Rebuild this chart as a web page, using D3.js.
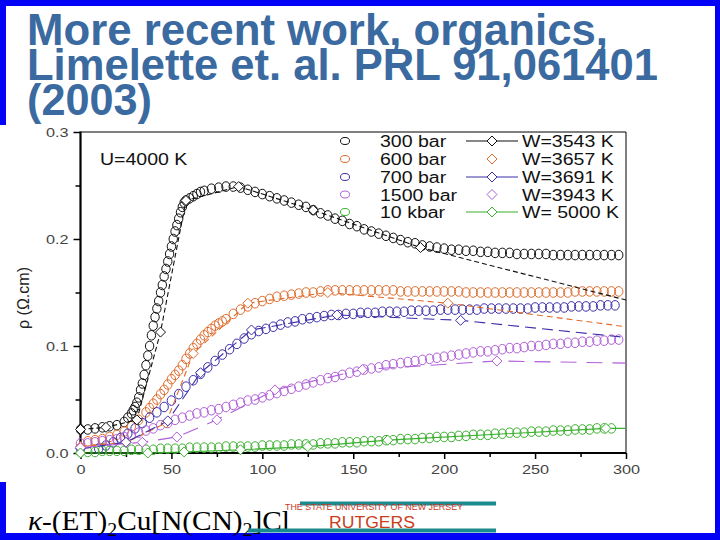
<!DOCTYPE html>
<html><head><meta charset="utf-8">
<script src="https://cdn.jsdelivr.net/npm/d3@7"></script>
<style>html,body{margin:0;padding:0;background:#fff;overflow:hidden}</style>
</head><body><svg id="c" width="720" height="540"></svg>
<script>
// ---------- text & categories ----------
const titleLines = ["More recent work, organics,", "Limelette et. al. PRL 91,061401", "(2003)"];
const xTicks = [0, 50, 100, 150, 200, 250, 300];
const xMinorTicks = [25, 75, 125, 175, 225, 275];
const yTicks = [0.0, 0.1, 0.2, 0.3];
const yMinorTicks = [0.05, 0.15, 0.25];
const seriesNames = ["300 bar", "600 bar", "700 bar", "1500 bar", "10 kbar"];
const modelNames = ["W=3543 K", "W=3657 K", "W=3691 K", "W=3943 K", "W= 5000 K"];
const modelInLegendLine = [true, false, true, false, true];
const seriesColors = ["#111111", "#e06c2c", "#3b2ea8", "#b05fd8", "#3cb030"];
const modelDash = ["5,3", "6,4", "11,6", "16,10", null];

// ---------- measured data (T in K, rho in Ohm.cm) ----------
const data300bar = [[0,.022],[4,.022],[8,.023],[12,.024],[16,.025],[20,.026],[24,.029],[26,.033],[28,.037],[29,.040],[30,.043],[31,.047],[32,.052],[33,.059],[34,.065],[35,.073],[36,.082],[37,.091],[38,.100],[39,.110],[40,.119],[41,.127],[42,.135],[43,.142],[44,.150],[45,.157],[46,.165],[47,.172],[48,.179],[49,.186],[50,.193],[51,.200],[52,.207],[53,.213],[54,.219],[55,.225],[56,.230],[57,.234],[58,.236],[60,.238],[62,.240],[64,.242],[66,.244],[68,.245],[72,.247],[76,.248],[80,.249],[84,.249],[88,.248],[92,.246],[96,.244],[100,.242],[104,.240],[108,.238],[112,.236],[116,.234],[120,.232],[124,.230],[128,.227],[132,.224],[136,.222],[140,.219],[144,.217],[148,.214],[152,.212],[156,.209],[160,.207],[164,.205],[168,.203],[172,.201],[176,.199],[180,.197],[184,.196],[188,.194],[192,.193],[196,.192],[200,.191],[204,.190],[208,.190],[212,.189],[216,.189],[220,.188],[224,.188],[228,.187],[232,.187],[236,.187],[240,.186],[244,.186],[248,.186],[252,.186],[256,.186],[260,.185],[264,.185],[268,.185],[272,.185],[276,.185],[280,.185],[284,.185],[288,.185],[292,.185],[296,.185]];
const data600bar = [[4,.011],[8,.012],[12,.013],[16,.015],[20,.017],[24,.020],[28,.025],[32,.031],[36,.038],[38,.042],[40,.046],[42,.050],[44,.055],[46,.059],[48,.064],[50,.069],[52,.073],[54,.077],[56,.082],[58,.088],[60,.093],[62,.098],[64,.102],[66,.106],[68,.110],[70,.113],[72,.116],[74,.119],[76,.121],[78,.123],[80,.125],[84,.130],[88,.134],[92,.137],[96,.140],[100,.142],[104,.144],[108,.146],[112,.147],[116,.148],[120,.149],[124,.150],[128,.150],[132,.151],[136,.152],[140,.152],[144,.152],[148,.152],[152,.152],[156,.152],[160,.152],[164,.152],[168,.152],[172,.152],[176,.151],[180,.151],[184,.151],[188,.151],[192,.151],[196,.151],[200,.151],[204,.151],[208,.151],[212,.150],[216,.150],[220,.150],[224,.150],[228,.150],[232,.150],[236,.150],[240,.150],[244,.150],[248,.150],[252,.150],[256,.150],[260,.150],[264,.150],[268,.150],[272,.151],[276,.151],[280,.151],[284,.151],[288,.151],[292,.151],[296,.151]];
const data700bar = [[10,.004],[14,.007],[18,.010],[22,.014],[26,.018],[30,.023],[34,.028],[38,.033],[42,.038],[46,.043],[50,.049],[54,.055],[58,.062],[62,.068],[66,.074],[70,.080],[74,.086],[78,.092],[82,.097],[86,.102],[90,.107],[94,.111],[98,.114],[102,.116],[106,.118],[110,.120],[114,.122],[118,.123],[122,.125],[126,.126],[130,.127],[134,.128],[138,.129],[142,.129],[146,.130],[150,.130],[154,.131],[158,.131],[162,.131],[166,.132],[170,.132],[174,.132],[178,.132],[182,.133],[186,.133],[190,.133],[194,.133],[198,.134],[202,.134],[206,.134],[210,.134],[214,.134],[218,.134],[222,.135],[226,.135],[230,.135],[234,.135],[238,.135],[242,.135],[246,.135],[250,.136],[254,.136],[258,.136],[262,.136],[266,.136],[270,.137],[274,.137],[278,.137],[282,.137],[286,.138],[290,.138],[294,.138]];
const data1500bar = [[0,.009],[4,.009],[8,.010],[12,.011],[16,.012],[20,.013],[24,.015],[28,.017],[32,.019],[36,.021],[40,.023],[44,.026],[48,.028],[52,.031],[56,.033],[60,.035],[64,.037],[68,.038],[72,.040],[76,.041],[80,.043],[84,.045],[88,.047],[92,.049],[96,.050],[100,.052],[104,.054],[108,.056],[112,.058],[116,.060],[120,.062],[124,.064],[128,.066],[132,.068],[136,.070],[140,.071],[144,.073],[148,.075],[152,.076],[156,.078],[160,.079],[164,.080],[168,.082],[172,.083],[176,.084],[180,.085],[184,.086],[188,.087],[192,.088],[196,.089],[200,.090],[204,.091],[208,.092],[212,.093],[216,.094],[220,.095],[224,.095],[228,.096],[232,.097],[236,.098],[240,.098],[244,.099],[248,.100],[252,.100],[256,.101],[260,.102],[264,.102],[268,.103],[272,.103],[276,.104],[280,.104],[284,.105],[288,.105],[292,.106],[296,.106]];
const data10kbar = [[0,.001],[4,.001],[8,.001],[12,.002],[16,.002],[20,.002],[24,.002],[28,.003],[32,.003],[36,.003],[40,.003],[44,.004],[48,.004],[52,.004],[56,.004],[60,.005],[64,.005],[68,.005],[72,.005],[76,.005],[80,.006],[84,.006],[88,.006],[92,.006],[96,.006],[100,.007],[104,.007],[108,.007],[112,.007],[116,.008],[120,.008],[124,.008],[128,.008],[132,.009],[136,.009],[140,.009],[144,.010],[148,.010],[152,.010],[156,.011],[160,.011],[164,.011],[168,.012],[172,.012],[176,.013],[180,.013],[184,.013],[188,.014],[192,.014],[196,.015],[200,.015],[204,.015],[208,.016],[212,.016],[216,.017],[220,.017],[224,.017],[228,.018],[232,.018],[236,.019],[240,.019],[244,.019],[248,.020],[252,.020],[256,.020],[260,.021],[264,.021],[268,.021],[272,.022],[276,.022],[280,.022],[284,.023],[288,.023],[292,.023]];

// ---------- DMFT model curves (diamond points) ----------
const modelW3543 = [[0,.022],[14,.024],[31,.031],[44,.113],[58,.236],[87,.249],[128,.227],[187,.192],[300,.143]];
const modelW3657 = [[0,.006],[25,.010],[47,.028],[62,.093],[92,.140],[136,.150],[202,.140],[300,.118]];
const modelW3691 = [[0,.004],[25,.010],[48,.030],[66,.075],[94,.115],[141,.129],[209,.124],[300,.108]];
const modelW3943 = [[0,.005],[34,.010],[53,.015],[75,.031],[107,.059],[155,.078],[229,.086],[300,.084]];
const modelW5000 = [[0,.000],[37,.000],[57,.001],[88,.003],[125,.006],[169,.012],[289,.023],[300,.023]];

const dataSets = [data300bar, data600bar, data700bar, data1500bar, data10kbar];
const modelSets = [modelW3543, modelW3657, modelW3691, modelW3943, modelW5000];

// ---------- drawing ----------
const svg = d3.select("#c");
const SANS = "'Liberation Sans', Arial, sans-serif";
function stretch(sel, k) {
  sel.each(function () {
    const w = this.getComputedTextLength();
    this.setAttribute("textLength", w * k);
    this.setAttribute("lengthAdjust", "spacingAndGlyphs");
  });
}

// slide frame
svg.append("rect").attr("width", 720).attr("height", 540).attr("fill", "#0202f6");
svg.append("rect").attr("x", 6).attr("y", 6).attr("width", 709).attr("height", 527).attr("fill", "#fff");

// title
const titleBase = [45, 80, 115];
const titleWidth = [581, 631, 125];
svg.selectAll("text.title").data(titleLines).join("text")
  .attr("class", "title")
  .attr("x", 27).attr("y", (d, i) => titleBase[i])
  .attr("font-family", "'Liberation Sans Narrow', 'Liberation Sans', Arial, sans-serif")
  .attr("font-weight", "bold").attr("font-size", 44)
  .attr("fill", "#3a6aa0")
  .attr("textLength", (d, i) => titleWidth[i]).attr("lengthAdjust", "spacingAndGlyphs")
  .text(d => d);

// plot image background (covers title descenders and left border)
svg.append("rect").attr("x", 0).attr("y", 125).attr("width", 715).attr("height", 357).attr("fill", "#fff");

const x = d3.scaleLinear().domain([0, 300]).range([80.5, 626]);
const y = d3.scaleLinear().domain([0, 0.3]).range([453, 132]);

const g = svg.append("g");

// axes
const xAxis = g.append("g").attr("transform", `translate(0,${y(0)})`)
  .call(d3.axisBottom(x).tickValues(xTicks).tickSize(6).tickPadding(6).tickFormat(d3.format("d")));
const xMinor = g.append("g").attr("transform", `translate(0,${y(0)})`)
  .call(d3.axisBottom(x).tickValues(xMinorTicks).tickSize(4).tickFormat(""));
const yAxis = g.append("g").attr("transform", `translate(${x(0)},0)`)
  .call(d3.axisLeft(y).tickValues(yTicks).tickSize(7).tickPadding(5).tickFormat(d3.format(".1f")));
const yMinor = g.append("g").attr("transform", `translate(${x(0)},0)`)
  .call(d3.axisLeft(y).tickValues(yMinorTicks).tickSize(5).tickFormat(""));
[xAxis, xMinor, yAxis, yMinor].forEach(a => {
  a.select(".domain").remove();
  a.selectAll(".tick line").attr("stroke", "#000").attr("stroke-width", 1.5);
  a.selectAll("text").attr("font-family", SANS).attr("font-size", 13).attr("fill", "#444");
});
stretch(xAxis.selectAll("text"), 1.25);
stretch(yAxis.selectAll("text"), 1.25);

// frame
g.append("line").attr("x1", x(0)).attr("x2", x(300)).attr("y1", y(0.3)).attr("y2", y(0.3)).attr("stroke", "#000").attr("stroke-width", 1);
g.append("line").attr("x1", x(300)).attr("x2", x(300)).attr("y1", y(0.3)).attr("y2", y(0)).attr("stroke", "#000").attr("stroke-width", 1);
g.append("line").attr("x1", x(0)).attr("x2", x(0)).attr("y1", y(0.3) - 0.5).attr("y2", y(0) + 1).attr("stroke", "#000").attr("stroke-width", 2.2);
g.append("line").attr("x1", x(0) - 1).attr("x2", x(300)).attr("y1", y(0)).attr("y2", y(0)).attr("stroke", "#000").attr("stroke-width", 2.2);

// y label
g.append("text").attr("transform", `translate(29,298) rotate(-90)`)
  .attr("text-anchor", "middle").attr("font-family", SANS).attr("font-size", 16).attr("fill", "#222")
  .text("ρ (Ω.cm)");

// data circles
dataSets.forEach((ds, i) => {
  g.append("g").selectAll("ellipse").data(ds).join("ellipse")
    .attr("cx", d => x(d[0])).attr("cy", d => y(d[1]))
    .attr("rx", 4.2).attr("ry", 4.8)
    .attr("fill", "none").attr("stroke", seriesColors[i]).attr("stroke-width", 1);
});

// model lines + diamonds
const line = d3.line().x(d => x(d[0])).y(d => y(d[1]));
const diamond = (cx, cy, r) => `M${cx},${cy - r}L${cx + r},${cy}L${cx},${cy + r}L${cx - r},${cy}Z`;
modelSets.forEach((ms, i) => {
  g.append("path").datum(ms).attr("d", line).attr("fill", "none")
    .attr("stroke", seriesColors[i]).attr("stroke-width", 1.1)
    .attr("stroke-dasharray", modelDash[i]);
  g.append("g").selectAll("path").data(ms.slice(0, -1)).join("path")
    .attr("d", d => diamond(x(d[0]), y(d[1]), 5))
    .attr("fill", "#fff").attr("stroke", seriesColors[i]).attr("stroke-width", 1);
});

// annotation
const uText = g.append("text").attr("x", 100).attr("y", 165).attr("font-family", SANS).attr("font-size", 16).attr("fill", "#111").text("U=4000 K");
stretch(uText, 1.22);

// legend
const rowY = [141, 159, 177, 194.5, 212];
const leg = g.append("g");
seriesNames.forEach((name, i) => {
  const ry = rowY[i];
  leg.append("ellipse").attr("cx", 345).attr("cy", ry).attr("rx", 4.5).attr("ry", 3.5)
    .attr("fill", "none").attr("stroke", seriesColors[i]).attr("stroke-width", 1);
  const t1 = leg.append("text").attr("x", 380).attr("y", ry + 6).attr("font-family", SANS).attr("font-size", 16).attr("fill", "#111").text(name);
  stretch(t1, 1.22);
  if (modelInLegendLine[i]) {
    leg.append("line").attr("x1", 466).attr("x2", 518).attr("y1", ry).attr("y2", ry).attr("stroke", seriesColors[i]).attr("stroke-width", 1.1);
  }
  leg.append("path").attr("d", diamond(492, ry, 5)).attr("fill", "#fff").attr("stroke", seriesColors[i]).attr("stroke-width", 1);
  const t2 = leg.append("text").attr("x", 522).attr("y", ry + 6).attr("font-family", SANS).attr("font-size", 16).attr("fill", "#111").text(modelNames[i]);
  stretch(t2, 1.22);
});

// compound formula
const f = svg.append("text").attr("x", 28).attr("y", 530)
  .attr("font-family", "'Liberation Serif', 'DejaVu Serif', serif").attr("font-size", 28).attr("fill", "#000")
  .attr("textLength", 262).attr("lengthAdjust", "spacingAndGlyphs");
f.append("tspan").attr("font-style", "italic").text("κ");
f.append("tspan").text("-(ET)");
f.append("tspan").attr("font-size", 19).attr("dy", 6).text("2");
f.append("tspan").attr("dy", -6).text("Cu[N(CN)");
f.append("tspan").attr("font-size", 19).attr("dy", 6).text("2");
f.append("tspan").attr("dy", -6).text("]Cl");

// Rutgers logo
svg.append("rect").attr("x", 300).attr("y", 501.5).attr("width", 196).attr("height", 4).attr("fill", "#1b8a8f");
svg.append("rect").attr("x", 248).attr("y", 528.5).attr("width", 248).attr("height", 4).attr("fill", "#1b8a8f");
svg.append("text").attr("x", 285).attr("y", 510).attr("font-family", SANS).attr("font-size", 8.5)
  .attr("fill", "#c8381e").attr("textLength", 178).attr("lengthAdjust", "spacingAndGlyphs")
  .text("THE STATE UNIVERSITY OF NEW JERSEY");
svg.append("text").attr("x", 329).attr("y", 528).attr("font-family", SANS).attr("font-size", 16)
  .attr("fill", "#c8401e").attr("textLength", 86).attr("lengthAdjust", "spacingAndGlyphs")
  .text("RUTGERS");
</script>
</body></html>
